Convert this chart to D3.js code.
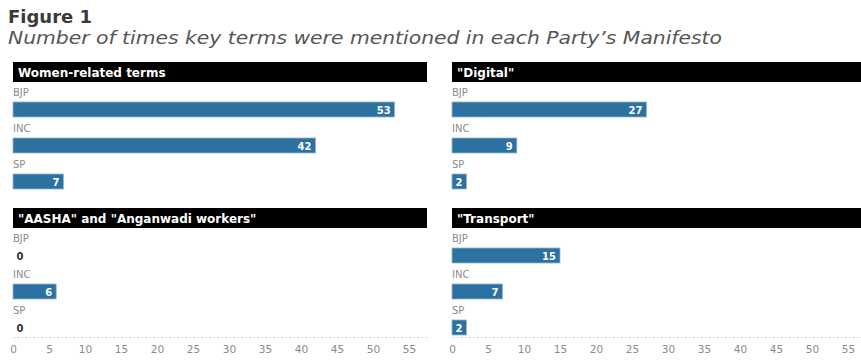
<!DOCTYPE html>
<html>
<head>
<meta charset="utf-8">
<script src="https://cdn.jsdelivr.net/npm/d3@7"></script>
<style>
  body { margin: 0; background: #fff; }
  svg { display: block; font-family: "DejaVu Sans", sans-serif; }
</style>
</head>
<body>
<svg id="chart" width="861" height="360"></svg>
<script>
// data
const parties = ['BJP', 'INC', 'SP'];
const panelTitles = ['Women-related terms', '"Digital"', '"AASHA" and "Anganwadi workers"', '"Transport"'];
const womenTerms = [53, 42, 7];
const digital = [27, 9, 2];
const aasha = [0, 6, 0];
const transport = [15, 7, 2];
const tickValues = [0, 5, 10, 15, 20, 25, 30, 35, 40, 45, 50, 55];

const panelValues = [womenTerms, digital, aasha, transport];

const svg = d3.select('#chart');
const W = 414;
const barColor = '#2d71a0';

// title
svg.append('text')
    .attr('x', 8).attr('y', 23)
    .attr('font-size', 17).attr('font-weight', 700).attr('fill', '#3a3a3a')
    .attr('textLength', 84).attr('lengthAdjust', 'spacingAndGlyphs')
    .text('Figure 1');
svg.append('text')
    .attr('x', 8).attr('y', 44)
    .attr('font-size', 17.5).attr('font-style', 'italic').attr('fill', '#555')
    .attr('textLength', 714).attr('lengthAdjust', 'spacingAndGlyphs')
    .text('Number of times key terms were mentioned in each Party\u2019s Manifesto');

const xLeft = [13, 452];
const yTop = [62, 208];

const y = d3.scaleBand().domain(parties).range([0, 108]).paddingInner(0).paddingOuter(0);

panelValues.forEach((vals, i) => {
    const col = i % 2, row = Math.floor(i / 2);
    const x = d3.scaleLinear().domain([0, 57.5]).range([0, W]);
    const g = svg.append('g').attr('transform', `translate(${xLeft[col]},${yTop[row]})`);

    // header
    g.append('rect').attr('x', 0).attr('y', 0).attr('width', W).attr('height', 20).attr('fill', '#000');
    g.append('text')
        .attr('x', 5).attr('y', 14.5)
        .attr('font-size', 12).attr('font-weight', 700).attr('fill', '#fff')
        .text(panelTitles[i]);

    const rows = g.selectAll('g.row')
        .data(parties.map((p, j) => ({ party: p, value: vals[j] })))
        .join('g')
        .attr('class', 'row')
        .attr('transform', d => `translate(0,${20 + y(d.party)})`);

    rows.append('text')
        .attr('x', 0).attr('y', 14)
        .attr('font-size', 10).attr('fill', '#8a8a8a')
        .text(d => d.party);

    rows.filter(d => d.value > 0).append('rect')
        .attr('x', 0).attr('y', 20)
        .attr('width', d => x(d.value)).attr('height', 15)
        .attr('fill', barColor)
        .attr('stroke', '#8fb6d3').attr('stroke-width', 0.8);

    rows.append('text')
        .attr('x', d => d.value > 0 ? x(d.value) - 4 : 7)
        .attr('y', 31.5)
        .attr('text-anchor', d => d.value > 0 ? 'end' : 'middle')
        .attr('font-size', 10).attr('font-weight', 700)
        .attr('fill', d => d.value > 0 ? '#fff' : '#333')
        .text(d => d.value);

    // axis for bottom row
    if (row === 1) {
        const axis = g.append('g')
            .attr('transform', `translate(0,129)`)
            .call(d3.axisBottom(x).tickValues(tickValues).tickSize(0).tickPadding(9));
        axis.select('.domain')
            .attr('stroke', '#ccc').attr('stroke-dasharray', '2,2');
        axis.selectAll('text')
            .attr('font-size', 10.5).attr('fill', '#8a8a8a')
            .attr('font-family', '"DejaVu Sans", sans-serif');
    }
});
</script>
</body>
</html>
